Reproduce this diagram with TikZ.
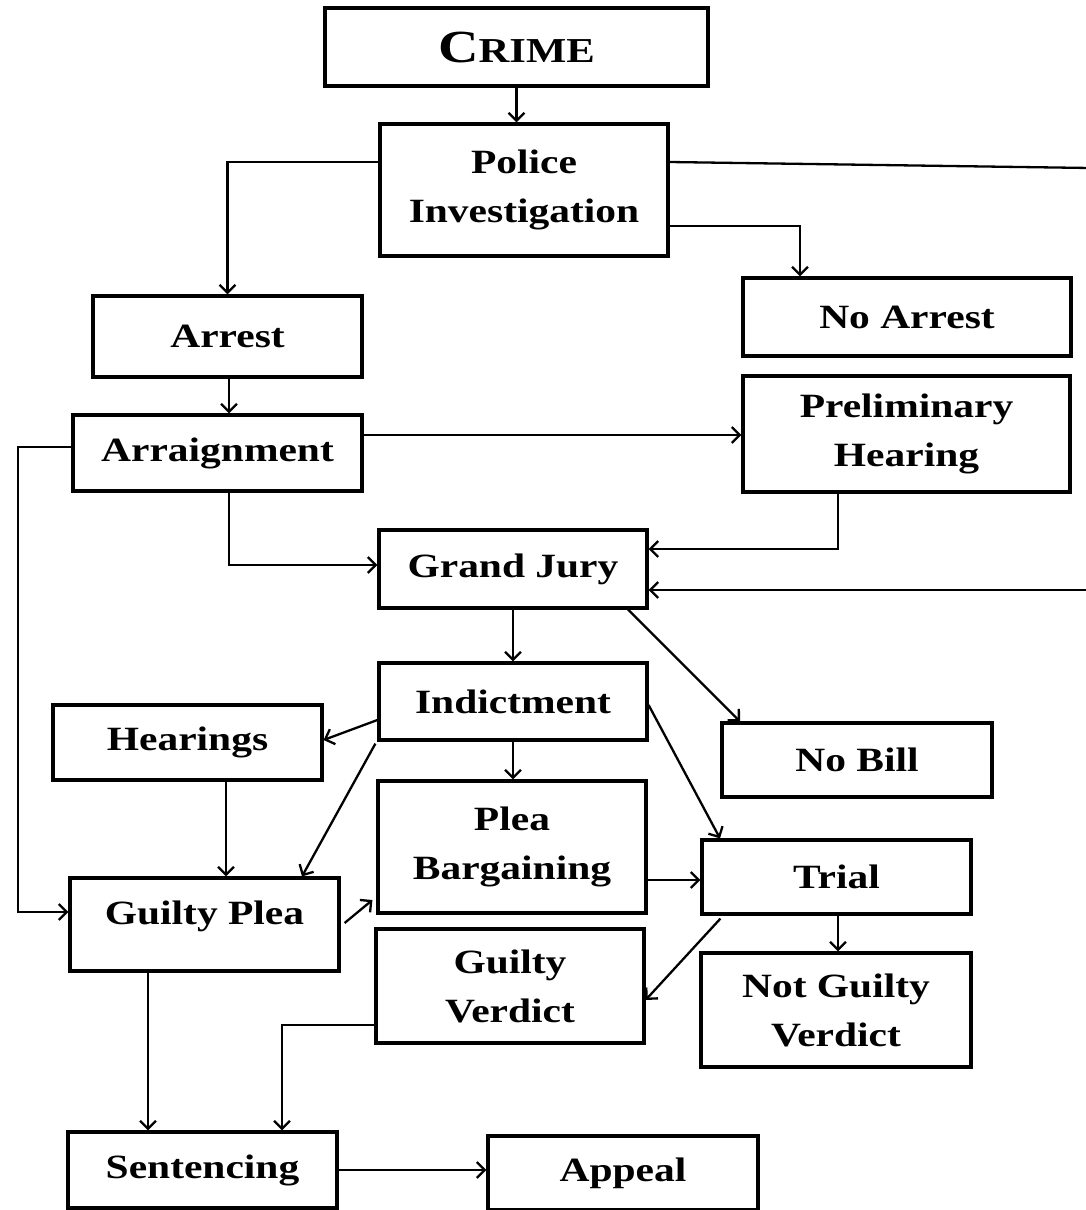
\documentclass[tikz,border=0pt]{standalone}
\usepackage{fontspec}
\setmainfont{Liberation Serif}[FakeStretch=1.22]
\usetikzlibrary{arrows.meta}
\begin{document}
\begin{tikzpicture}[x=1pt,y=-1pt,
  box/.style={draw, line width=3.2pt, inner sep=0pt, align=center,
    font=\bfseries\fontsize{34}{49}\selectfont},
  plain/.style={line width=2.3pt},
  conn/.style={line width=2.3pt, -{Straight Barb[length=8pt,width=16pt,line width=2.3pt]}}]
\useasboundingbox (0,0) rectangle (1086,1210);
\fill[white] (0,0) rectangle (1086,1210);

\node[box, minimum width=383pt, minimum height=78pt] (crime) at (516.5,47)
  {{\fontsize{46}{46}\selectfont C}{\fontsize{35}{35}\selectfont RIME}};
\node[box, minimum width=288pt, minimum height=132pt] (police) at (524,190) {Police\\Investigation};
\node[box, minimum width=269pt, minimum height=81pt] (arrest) at (227.5,336.5) {Arrest};
\node[box, minimum width=328pt, minimum height=78pt] (noarrest) at (907,317) {No Arrest};
\node[box, minimum width=289pt, minimum height=76pt] (arraign) at (217.5,453) {Arraignment};
\node[box, minimum width=327pt, minimum height=116pt] (prelim) at (906.5,434) {Preliminary\\Hearing};
\node[box, minimum width=268pt, minimum height=78pt] (grand) at (513,569) {Grand Jury};
\node[box, minimum width=268pt, minimum height=77pt] (indict) at (513,701.5) {Indictment};
\node[box, minimum width=269pt, minimum height=75pt] (hearings) at (187.5,742.5) {Hearings};
\node[box, minimum width=270pt, minimum height=74pt] (nobill) at (857,760) {No Bill};
\node[box, minimum width=268pt, minimum height=132pt] (plea) at (512,847) {Plea\\Bargaining};
\node[box, minimum width=269pt, minimum height=74pt] (trial) at (836.5,877) {Trial};
\node[box, minimum width=269pt, minimum height=93pt, text depth=24pt] (gplea) at (204.5,924.5) {Guilty Plea};
\node[box, minimum width=268pt, minimum height=114pt] (gverdict) at (510,986) {Guilty\\Verdict};
\node[box, minimum width=270pt, minimum height=114pt] (ngverdict) at (836,1010) {Not Guilty\\Verdict};
\node[box, minimum width=269pt, minimum height=76pt] (sentencing) at (202.5,1170) {Sentencing};
\node[box, minimum width=270pt, minimum height=74pt] (appeal) at (623,1173) {Appeal};

\coordinate (offA) at (1090,168);
\coordinate (offB) at (1090,590);

\draw[conn] (crime.south) -- (crime.south |- police.north);
\draw[conn] (police.west |- 0,162) -| (arrest.north);
\draw[plain] (police.east |- 0,162) -- (offA);
\draw[conn] (offB) -- (grand.east |- 0,590);
\draw[conn] (police.east |- 0,226) -| (noarrest.north -| 800,0);
\draw[conn] (arrest.south -| 229,0) -- (arraign.north -| 229,0);
\draw[conn] (arraign.east |- 0,435) -- (prelim.west |- 0,435);
\draw[conn] (arraign.west |- 0,447) -- (18,447) -- (18,912) -- (gplea.west |- 0,912);
\draw[conn] (arraign.south -| 229,0) |- (grand.west |- 0,565);
\draw[conn] (prelim.south -| 838,0) |- (grand.east |- 0,549);
\draw[conn] (grand.south) -- (indict.north);
\draw[conn] (grand.south -| 628,0) -- (nobill.north -| 740,0);
\draw[conn] (indict.west |- 0,720) -- (hearings.east |- 0,740);
\draw[conn] ([shift={(-2pt,-2pt)}]indict.south west) -- (gplea.north -| 302,0);
\draw[conn] (indict.south) -- (indict.south |- plea.north);
\draw[conn] (indict.east |- 0,705) -- (trial.north -| 720,0);
\draw[conn] (hearings.south -| 226,0) -- (gplea.north -| 226,0);
\draw[conn] ([xshift=4pt]gplea.east |- 0,923) -- ([xshift=-4pt]plea.west |- 0,900);
\draw[conn] (plea.east |- 0,880) -- (trial.west |- 0,880);
\draw[conn] (trial.south -| 838,0) -- (ngverdict.north -| 838,0);
\draw[conn] ([shift={(20pt,-3pt)}]trial.south west) -- (gverdict.east |- 0,1000);
\draw[conn] (gverdict.west |- 0,1025) -| (sentencing.north -| 282,0);
\draw[conn] (gplea.south -| 148,0) -- (sentencing.north -| 148,0);
\draw[conn] (sentencing.east |- 0,1170) -- (appeal.west |- 0,1170);
\end{tikzpicture}
\end{document}
